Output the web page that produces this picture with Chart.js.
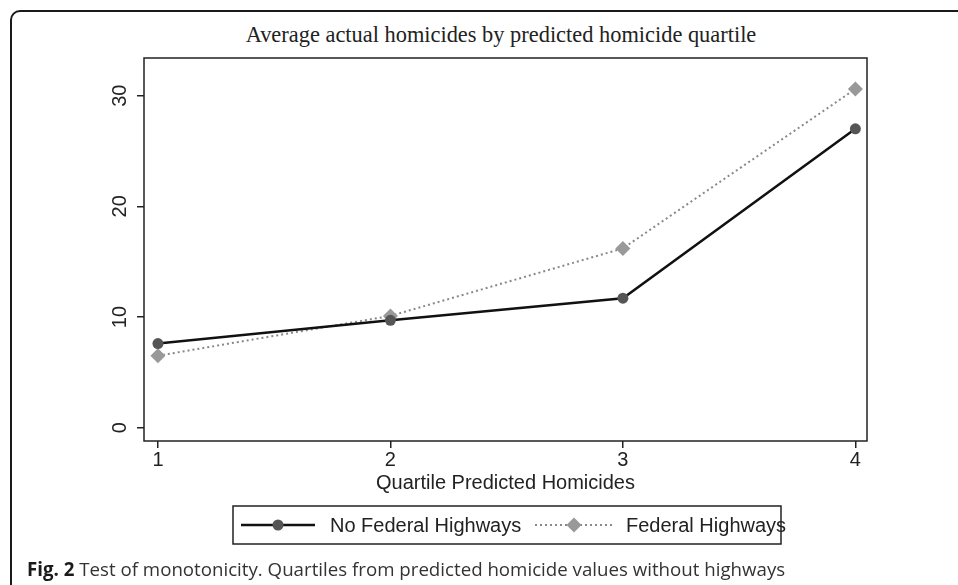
<!DOCTYPE html>
<html>
<head>
<meta charset="utf-8">
<script src="https://cdn.jsdelivr.net/npm/chart.js@4"></script>
<style>
html, body { margin: 0; padding: 0; background: #fff; }
body { width: 958px; height: 585px; position: relative; overflow: hidden; }
#moldura {
    position: absolute; left: 10px; top: 10px; width: 990px; height: 620px;
    border: 2px solid #1a1a1a; border-top-left-radius: 10px; box-sizing: border-box;
}
#titulo {
    position: absolute; left: 0; top: 22px; width: 1002px; line-height: 26px;
    text-align: center; font-family: "Liberation Serif", "DejaVu Serif", serif;
    font-size: 22.4px; color: #222;
}
#area { position: absolute; left: 0; top: 0; width: 958px; height: 585px; }
#legenda-fig {
    position: absolute; left: 27px; top: 556px; white-space: nowrap;
    font-family: "Open Sans", "Noto Sans", sans-serif; font-size: 18.7px; color: #333;
}
#legenda-fig b { color: #1a1a1a; }
</style>
</head>
<body>
<div id="moldura"></div>
<div id="titulo">Average actual homicides by predicted homicide quartile</div>
<div id="area"><canvas id="grafico"></canvas></div>
<div id="legenda-fig"><b>Fig. 2</b> Test of monotonicity. Quartiles from predicted homicide values without highways</div>
<script>
// Dados
const quartis = [1, 2, 3, 4];
const semRodovia = [7.6, 9.7, 11.7, 27.0];
const comRodovia = [6.5, 10.1, 16.2, 30.6];
const ticksY = [0, 10, 20, 30];
const rotulos = ['No Federal Highways', 'Federal Highways'];

const fonteEixo = { family: '"Liberation Sans", Arial, sans-serif', size: 20 };
const corTexto = '#222';

// Caixa em volta da área do gráfico (estilo Stata)
const caixaPlot = {
    id: 'caixaPlot',
    beforeDatasetsDraw(chart) {
        const { ctx, chartArea: a } = chart;
        ctx.save();
        ctx.strokeStyle = '#222';
        ctx.lineWidth = 1.5;
        ctx.strokeRect(a.left, a.top, a.right - a.left, a.bottom - a.top);
        ctx.restore();
    }
};

// Legenda com linha + marcador, dentro de uma caixa
const legendaStata = {
    id: 'legendaStata',
    afterDraw(chart, args, opts) {
        const { ctx } = chart;
        const b = opts.caixa;
        const cy = b.y + b.h / 2;
        ctx.save();
        ctx.fillStyle = '#fff';
        ctx.fillRect(b.x, b.y, b.w, b.h);
        ctx.strokeStyle = '#222';
        ctx.lineWidth = 1.5;
        ctx.strokeRect(b.x, b.y, b.w, b.h);

        chart.data.datasets.forEach((ds, i) => {
            const it = opts.itens[i];
            ctx.save();
            ctx.strokeStyle = ds.borderColor;
            ctx.lineWidth = ds.borderWidth;
            ctx.setLineDash(ds.borderDash || []);
            ctx.beginPath();
            ctx.moveTo(it.x0, cy);
            ctx.lineTo(it.x1, cy);
            ctx.stroke();
            ctx.setLineDash([]);
            ctx.fillStyle = ds.pointBackgroundColor;
            ctx.strokeStyle = ds.pointBorderColor;
            Chart.helpers.drawPoint(ctx, {
                pointStyle: ds.pointStyle, radius: ds.pointRadius, rotation: 0, borderWidth: 0
            }, (it.x0 + it.x1) / 2, cy);
            ctx.restore();

            ctx.fillStyle = corTexto;
            ctx.font = `${fonteEixo.size}px ${fonteEixo.family}`;
            ctx.textBaseline = 'middle';
            ctx.textAlign = 'left';
            ctx.fillText(ds.label, it.tx, cy + 1);
        });
        ctx.restore();
    }
};

function criarGrafico() {
    const ctx = document.getElementById('grafico').getContext('2d');
    new Chart(ctx, {
        type: 'line',
        data: {
            datasets: [
                {
                    label: rotulos[0],
                    data: quartis.map((q, i) => ({ x: q, y: semRodovia[i] })),
                    borderColor: '#111',
                    borderWidth: 2.5,
                    pointStyle: 'circle',
                    pointRadius: 5.5,
                    pointBackgroundColor: '#555',
                    pointBorderColor: '#555',
                    pointBorderWidth: 0,
                    tension: 0,
                    fill: false,
                },
                {
                    label: rotulos[1],
                    data: quartis.map((q, i) => ({ x: q, y: comRodovia[i] })),
                    borderColor: '#888',
                    borderWidth: 2,
                    borderDash: [2, 3],
                    pointStyle: 'rectRot',
                    pointRadius: 7.5,
                    pointBackgroundColor: '#999',
                    pointBorderColor: '#999',
                    pointBorderWidth: 0,
                    tension: 0,
                    fill: false,
                },
            ],
        },
        options: {
            responsive: true,
            maintainAspectRatio: false,
            animation: false,
            events: [],
            layout: { padding: { top: 58, left: 0, right: 91, bottom: 90 } },
            plugins: {
                legend: { display: false },
                title: { display: false },
                tooltip: { enabled: false },
                legendaStata: {
                    caixa: { x: 233, y: 506, w: 548, h: 38 },
                    itens: [
                        { x0: 241, x1: 315, tx: 330 },
                        { x0: 535, x1: 613, tx: 626 },
                    ],
                },
            },
            scales: {
                x: {
                    type: 'linear',
                    min: 0.94,
                    max: 4.05,
                    afterFit: s => { s.height = 54; },
                    afterBuildTicks: s => { s.ticks = quartis.map(v => ({ value: v })); },
                    ticks: { padding: 0, maxRotation: 0, font: fonteEixo, color: corTexto },
                    grid: { drawOnChartArea: false, tickLength: 7, color: '#222', lineWidth: 1.5 },
                    border: { display: false },
                    title: {
                        display: true,
                        text: 'Quartile Predicted Homicides',
                        font: fonteEixo,
                        color: corTexto,
                        padding: { top: 0, bottom: 0 },
                    },
                },
                y: {
                    min: -1.2,
                    max: 33.4,
                    afterFit: s => { s.width = 144; },
                    afterBuildTicks: s => { s.ticks = ticksY.map(v => ({ value: v })); },
                    ticks: {
                        minRotation: 90, maxRotation: 90, crossAlign: 'center',
                        padding: 5, font: fonteEixo, color: corTexto,
                    },
                    grid: { drawOnChartArea: false, tickLength: 7, color: '#222', lineWidth: 1.5 },
                    border: { display: false },
                },
            },
        },
        plugins: [caixaPlot, legendaStata],
    });
}

document.addEventListener('DOMContentLoaded', criarGrafico);
</script>
</body>
</html>
